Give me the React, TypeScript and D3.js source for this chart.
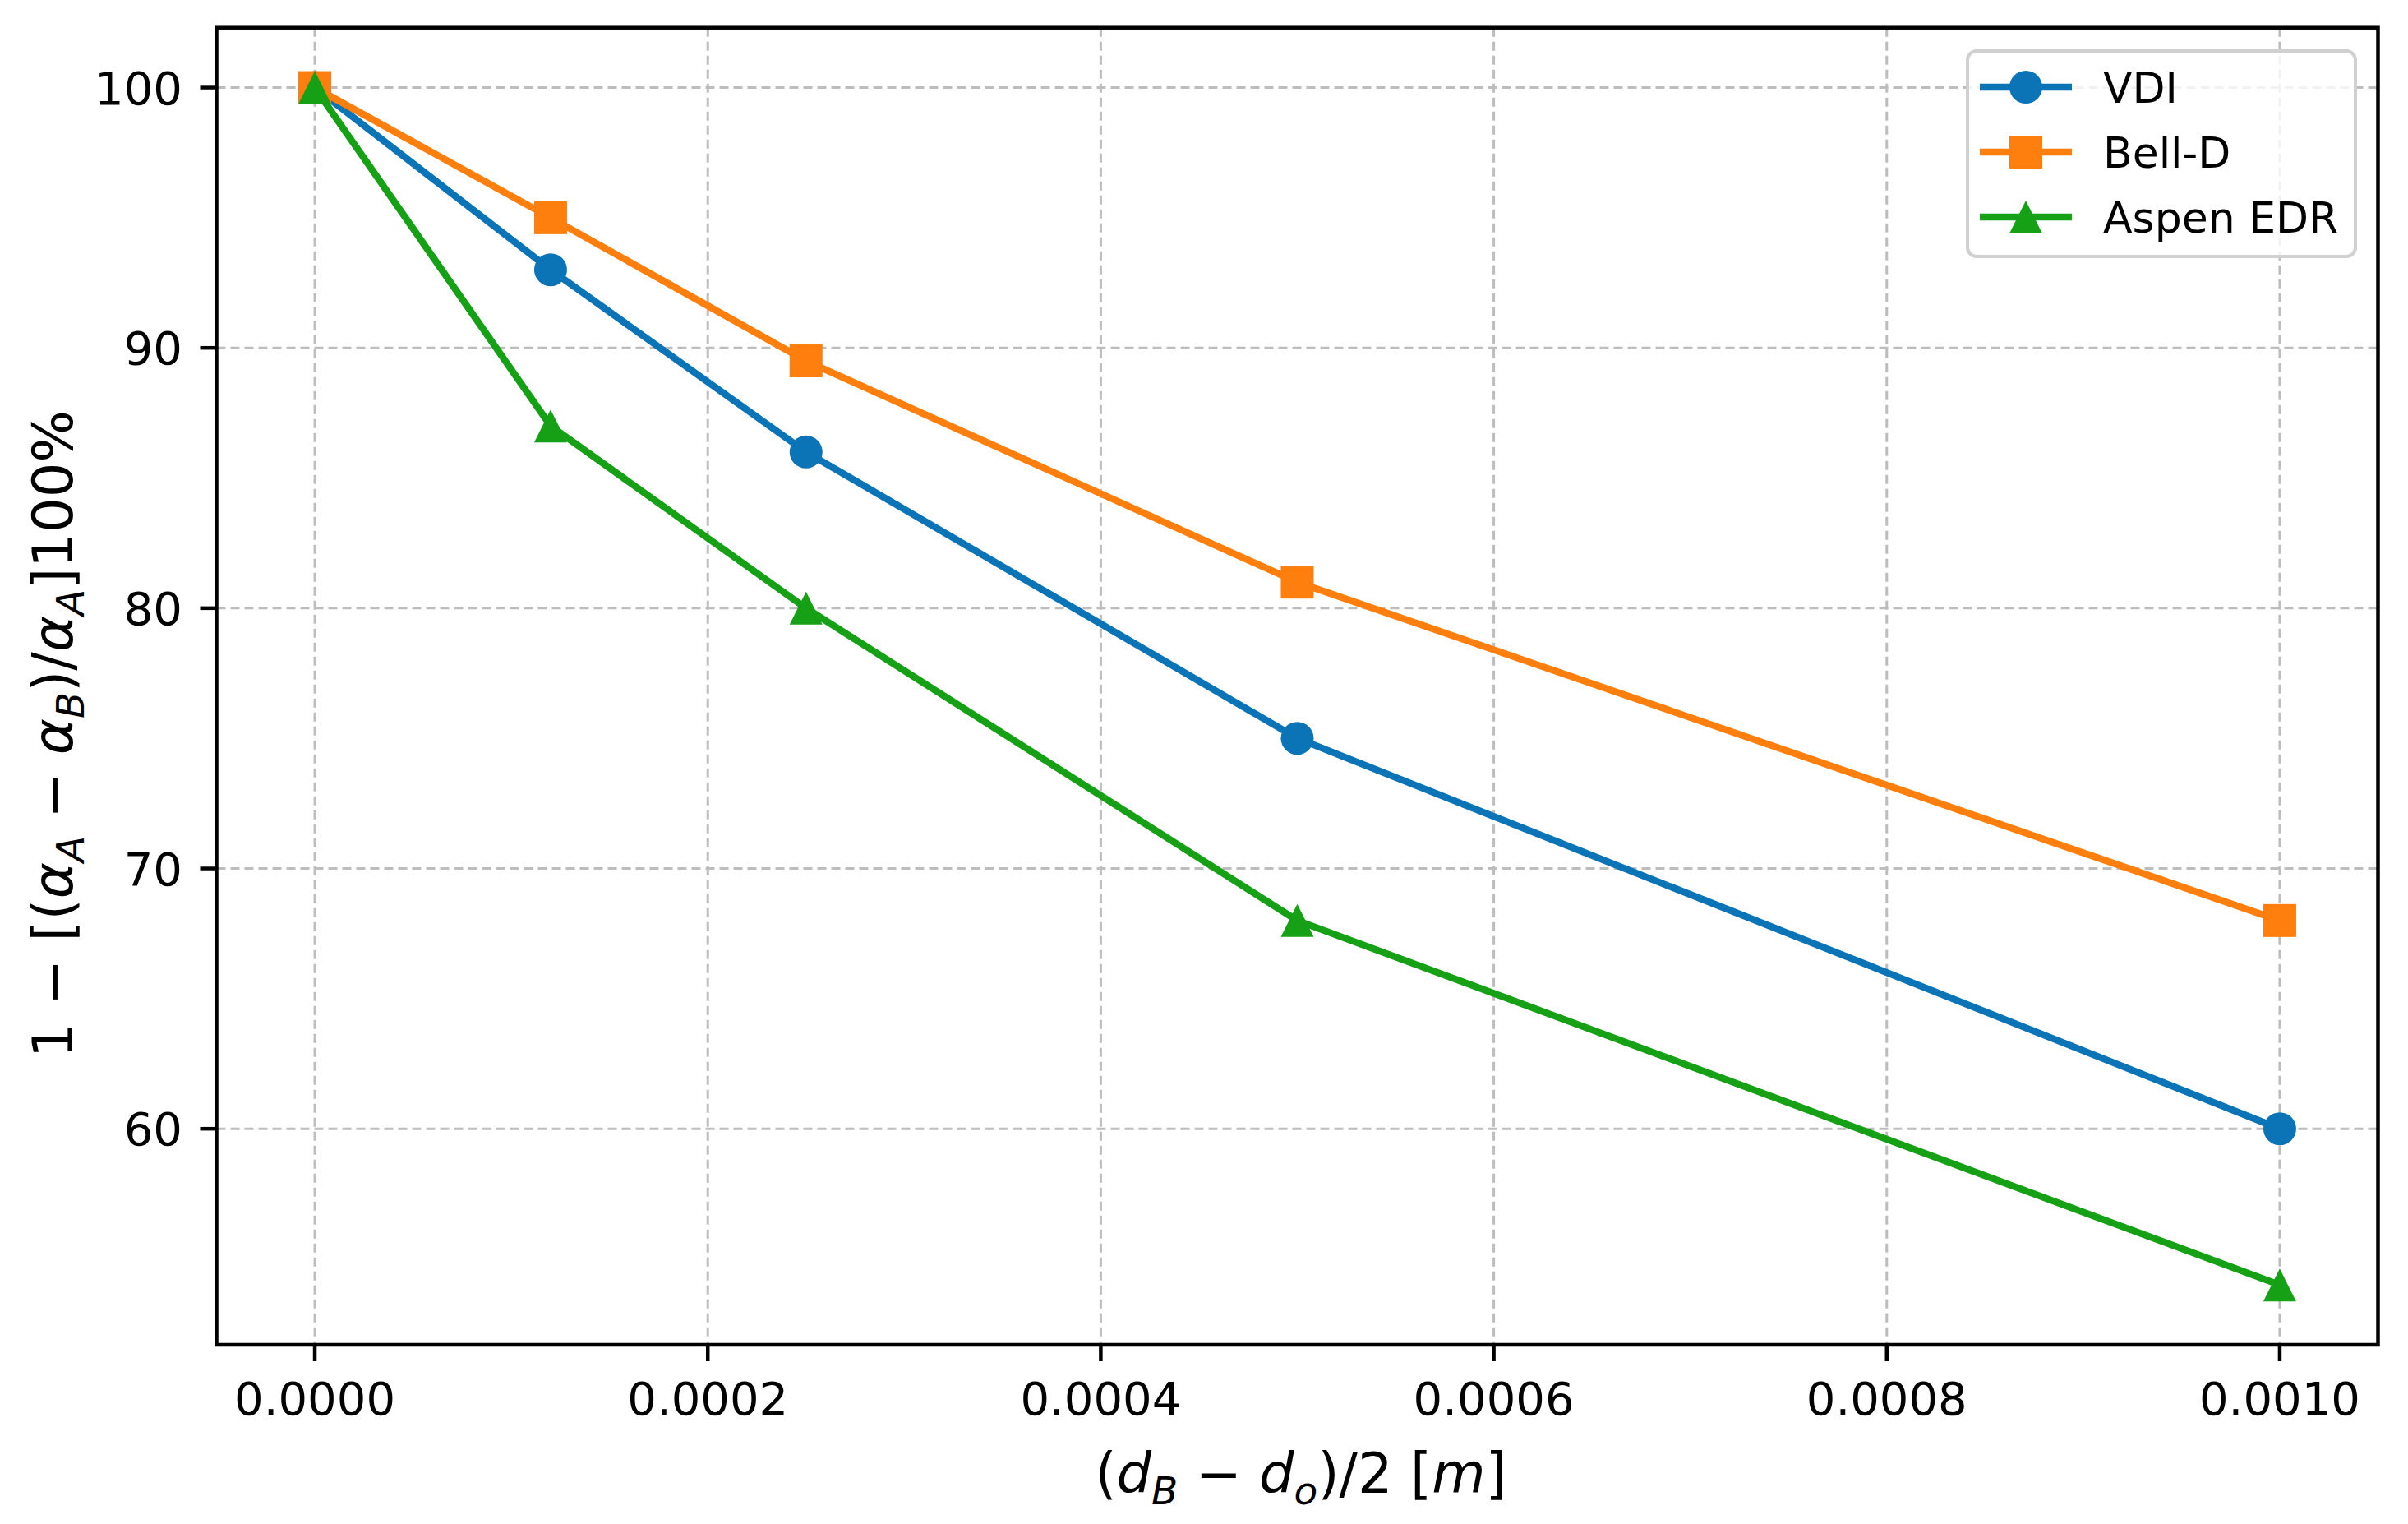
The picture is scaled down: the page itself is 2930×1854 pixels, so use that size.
import React from "react";
import * as d3 from "d3";

const xValues = [0, 0.00012, 0.00025, 0.0005, 0.001];
const vdiValues = [100, 93, 86, 75, 60];
const bellDValues = [100, 95, 89.5, 81, 68];
const aspenValues = [100, 87, 80, 68, 54];
const seriesNames = ["VDI", "Bell-D", "Aspen EDR"];
const xTickValues = [0, 0.0002, 0.0004, 0.0006, 0.0008, 0.001];
const yTickValues = [60, 70, 80, 90, 100];

const W = 2930;
const H = 1854;
const plot = { left: 263.5, right: 2893.5, top: 33.7, bottom: 1636 };
const colors = ["#0b74b7", "#ff7f0e", "#16a016"];
const markers = ["circle", "square", "triangle"];
const FONT = "DejaVu Sans, sans-serif";
const MS = 40;
const LW = 8.4;

function Marker({ type, x, y, color }: { type: string; x: number; y: number; color: string }) {
  const h = MS / 2;
  if (type === "circle") return <circle cx={x} cy={y} r={h} fill={color} />;
  if (type === "square") return <rect x={x - h} y={y - h} width={MS} height={MS} fill={color} />;
  return <path d={`M${x},${y - h}L${x - h},${y + h}L${x + h},${y + h}Z`} fill={color} />;
}

export default function App() {
  const xScale = d3.scaleLinear().domain([-0.00005, 0.00105]).range([plot.left, plot.right]);
  const yScale = d3.scaleLinear().domain([51.7, 102.3]).range([plot.bottom, plot.top]);
  const series = [vdiValues, bellDValues, aspenValues];
  const line = d3
    .line<[number, number]>()
    .x((d) => xScale(d[0]))
    .y((d) => yScale(d[1]));
  const fmt = d3.format(".4f");

  const legend = { x: 2394, y: 62, w: 472, h: 250 };
  const rowY = [106, 185, 264];

  return (
    <svg
      width={W}
      height={H}
      viewBox={`0 0 ${W} ${H}`}
      style={{ position: "fixed", left: 0, top: 0, background: "#fff" }}
      fontFamily={FONT}
    >
      <rect x={0} y={0} width={W} height={H} fill="#fff" />
      {/* grid */}
      <g stroke="#bdbdbd" strokeWidth={3} strokeDasharray="11,6">
        {xTickValues.map((t) => (
          <line key={"gx" + t} x1={xScale(t)} x2={xScale(t)} y1={plot.top} y2={plot.bottom} />
        ))}
        {yTickValues.map((t) => (
          <line key={"gy" + t} x1={plot.left} x2={plot.right} y1={yScale(t)} y2={yScale(t)} />
        ))}
      </g>
      {/* series */}
      {series.map((vals, i) => {
        const pts = xValues.map((x, j) => [x, vals[j]] as [number, number]);
        return (
          <g key={seriesNames[i]}>
            <path d={line(pts) || ""} fill="none" stroke={colors[i]} strokeWidth={LW} strokeLinejoin="round" strokeLinecap="square" />
            {pts.map((p, j) => (
              <Marker key={j} type={markers[i]} x={xScale(p[0])} y={yScale(p[1])} color={colors[i]} />
            ))}
          </g>
        );
      })}
      {/* frame */}
      <rect
        x={plot.left}
        y={plot.top}
        width={plot.right - plot.left}
        height={plot.bottom - plot.top}
        fill="none"
        stroke="#000"
        strokeWidth={4.5}
      />
      {/* x ticks */}
      {xTickValues.map((t) => (
        <g key={"xt" + t}>
          <line x1={xScale(t)} x2={xScale(t)} y1={plot.bottom} y2={plot.bottom + 20} stroke="#000" strokeWidth={4.5} />
          <text x={xScale(t)} y={1721} fontSize={56} textAnchor="middle" fill="#000">
            {fmt(t)}
          </text>
        </g>
      ))}
      {/* y ticks */}
      {yTickValues.map((t) => (
        <g key={"yt" + t}>
          <line x1={plot.left - 20} x2={plot.left} y1={yScale(t)} y2={yScale(t)} stroke="#000" strokeWidth={4.5} />
          <text x={222} y={yScale(t) + 20} fontSize={56} textAnchor="end" fill="#000">
            {t}
          </text>
        </g>
      ))}
      {/* x label */}
      <text x={1583} y={1816} fontSize={67} textAnchor="middle" fill="#000">
        <tspan>(</tspan>
        <tspan fontStyle="italic">d</tspan>
        <tspan fontStyle="italic" fontSize={47} dy={14}>B</tspan>
        <tspan dy={-14}> − </tspan>
        <tspan fontStyle="italic">d</tspan>
        <tspan fontStyle="italic" fontSize={47} dy={14}>o</tspan>
        <tspan dy={-14}>)/2 [</tspan>
        <tspan fontStyle="italic">m</tspan>
        <tspan>]</tspan>
      </text>
      {/* y label */}
      <text transform="translate(88,893) rotate(-90)" fontSize={67} textAnchor="middle" fill="#000">
        <tspan>1 − [(</tspan>
        <tspan fontStyle="italic">α</tspan>
        <tspan fontStyle="italic" fontSize={47} dy={14}>A</tspan>
        <tspan dy={-14}> − </tspan>
        <tspan fontStyle="italic">α</tspan>
        <tspan fontStyle="italic" fontSize={47} dy={14}>B</tspan>
        <tspan dy={-14}>)/</tspan>
        <tspan fontStyle="italic">α</tspan>
        <tspan fontStyle="italic" fontSize={47} dy={14}>A</tspan>
        <tspan dy={-14}>]100%</tspan>
      </text>
      {/* legend */}
      <rect
        x={legend.x}
        y={legend.y}
        width={legend.w}
        height={legend.h}
        rx={11}
        ry={11}
        fill="#fff"
        fillOpacity={0.8}
        stroke="#d0d0d0"
        strokeWidth={4}
      />
      {seriesNames.map((name, i) => (
        <g key={"lg" + name}>
          <line x1={2409} x2={2521} y1={rowY[i]} y2={rowY[i]} stroke={colors[i]} strokeWidth={LW} />
          <Marker type={markers[i]} x={2465} y={rowY[i]} color={colors[i]} />
          <text x={2559} y={rowY[i] + 19} fontSize={52} fill="#000">
            {name}
          </text>
        </g>
      ))}
    </svg>
  );
}
